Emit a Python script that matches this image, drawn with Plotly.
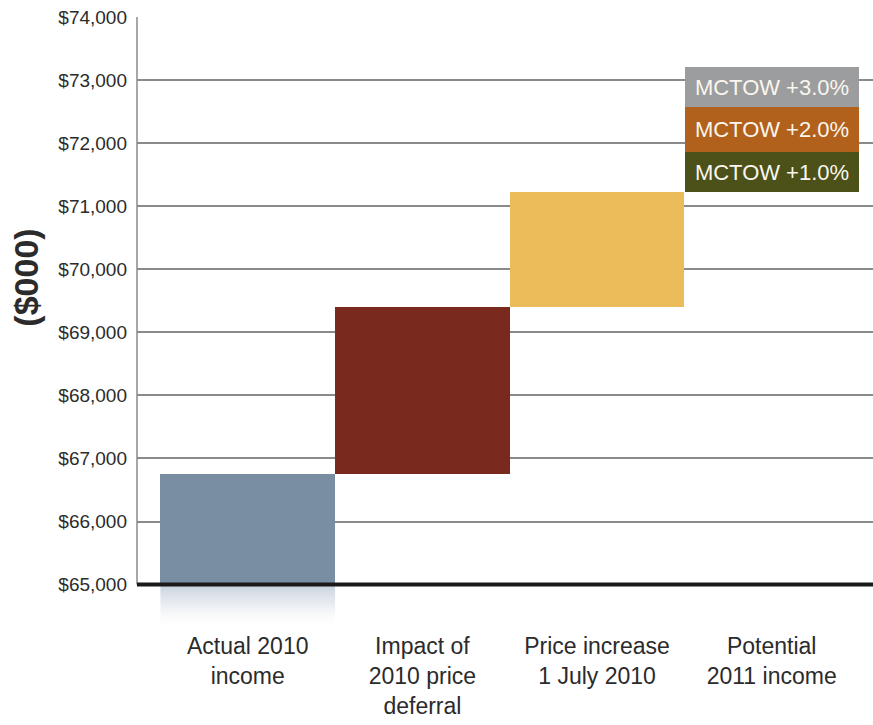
import plotly.graph_objects as go

# Waterfall data ($000)
categories = ["Actual 2010<br>income", "Impact of<br>2010 price<br>deferral",
              "Price increase<br>1 July 2010", "Potential<br>2011 income"]
axis_floor = 65000
actual_2010 = 66750
step_changes = [2650, 1820]          # price deferral impact, July 2010 price increase
mctow_labels = ["MCTOW +1.0%", "MCTOW +2.0%", "MCTOW +3.0%"]
mctow_changes = [640, 710, 640]
tick_values = [65000, 66000, 67000, 68000, 69000, 70000, 71000, 72000, 73000, 74000]
tick_labels = ["${:,}".format(v) for v in tick_values]

step_colors = ["#7a8ea3", "#7a291e", "#ebbd5a"]
mctow_colors = ["#4b5119", "#b1611c", "#9c9d9f"]
FONT = "Liberation Sans, Arial, sans-serif"
Y_BOTTOM = 64280

fig = go.Figure()

# soft reflection under the first bar
fig.add_trace(go.Scatter(
    x=[-0.5, 0.5, 0.5, -0.5, -0.5],
    y=[axis_floor, axis_floor, Y_BOTTOM, Y_BOTTOM, axis_floor],
    mode="lines", line=dict(width=0), fill="toself",
    fillgradient=dict(type="vertical",
                      colorscale=[[0, "rgba(255,255,255,0)"],
                                  [0.6, "rgba(214,222,231,0.6)"],
                                  [1, "rgba(196,207,219,0.95)"]]),
    hoverinfo="skip", showlegend=False,
))

# actual income plus the two waterfall steps
bases = [axis_floor]
heights = [actual_2010 - axis_floor]
level = actual_2010
for ch in step_changes:
    bases.append(level)
    heights.append(ch)
    level += ch

fig.add_trace(go.Bar(
    x=[0, 1, 2], y=heights, base=bases, width=1,
    marker=dict(color=step_colors, line=dict(width=0)),
    hoverinfo="skip", showlegend=False,
))

# stacked MCTOW scenarios on the potential 2011 income column
for label, ch, col in zip(mctow_labels, mctow_changes, mctow_colors):
    fig.add_trace(go.Bar(
        x=[3], y=[ch], base=[level], width=0.994,
        marker=dict(color=col, line=dict(width=0)),
        text=[label], textposition="inside", insidetextanchor="middle",
        textangle=0, constraintext="none",
        textfont=dict(family=FONT, size=22, color="#faf6ee"),
        hoverinfo="skip", showlegend=False,
    ))
    level += ch

fig.update_layout(
    width=873, height=725,
    margin=dict(l=137, r=0, t=17, b=95),
    paper_bgcolor="white", plot_bgcolor="white",
    barmode="overlay", bargap=0,
    font=dict(family=FONT, color="#2b2b2b"),
    xaxis=dict(
        range=[-0.634, 3.58], tickvals=[0, 1, 2, 3], ticktext=categories,
        showgrid=False, showline=False, zeroline=False, ticks="",
        tickfont=dict(size=23, color="#2b2b2b"),
    ),
    yaxis=dict(
        range=[Y_BOTTOM, 74000], tickvals=tick_values, ticktext=tick_labels,
        showgrid=True, gridcolor="#8a8a8a", gridwidth=1.5,
        showline=False, zeroline=False, ticks="",
        ticklabelstandoff=9,
        tickfont=dict(size=19, color="#2b2b2b"),
    ),
    shapes=[
        # left axis line
        dict(type="line", xref="paper", yref="y", x0=0, x1=0,
             y0=axis_floor, y1=tick_values[-1],
             line=dict(color="#8a8a8a", width=1.5), layer="above"),
        # heavy baseline
        dict(type="line", xref="paper", yref="y", x0=0, x1=1,
             y0=axis_floor, y1=axis_floor,
             line=dict(color="#1a1a1a", width=4), layer="above"),
    ],
    annotations=[
        dict(text="<b>($000)</b>", xref="paper", yref="paper",
             x=-0.152, y=0.575, xanchor="center", yanchor="middle",
             textangle=-90, showarrow=False,
             font=dict(family=FONT, size=34, color="#2b2b2b")),
    ],
)

fig.write_html("out.html")
